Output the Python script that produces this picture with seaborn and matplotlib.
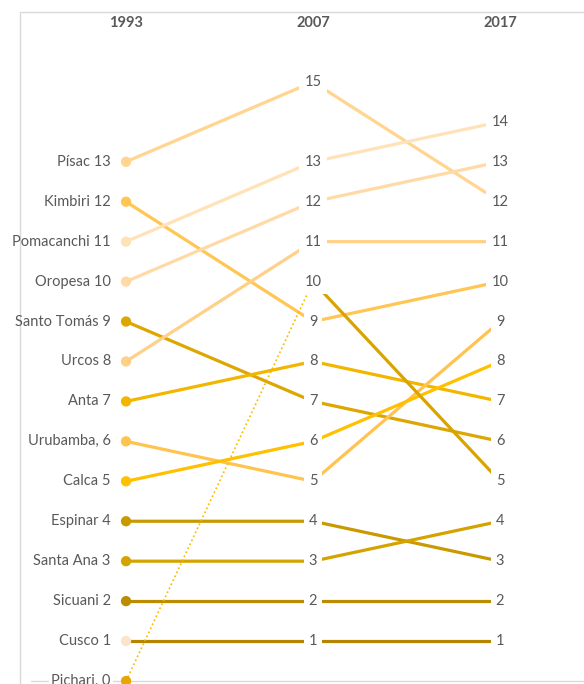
import matplotlib
matplotlib.use("Agg")
import matplotlib.pyplot as plt
import seaborn as sns
import pandas as pd

years = ["1993", "2007", "2017"]
towns = ["Písac", "Kimbiri", "Pomacanchi", "Oropesa", "Santo Tomás", "Urcos", "Anta",
         "Urubamba,", "Calca", "Espinar", "Santa Ana", "Sicuani", "Cusco", "Pichari,"]
r1993 = [13, 12, 11, 10, 9, 8, 7, 6, 5, 4, 3, 2, 1, 0]
r2007 = [15, 9, 13, 12, 7, 11, 8, 5, 6, 4, 3, 2, 1, 10]
r2017 = [12, 10, 14, 13, 6, 11, 7, 9, 8, 3, 4, 2, 1, 5]
line_colors = ["#FFD58F", "#FFC654", "#FFE2B8", "#FFDAA6", "#DDA600", "#FFD088", "#F2B600",
               "#FFC34F", "#FFC000", "#C99A00", "#D4A300", "#BB8C00", "#B58500", "#D9A300"]
marker_colors = ["#FFD58F", "#FFC654", "#FFE2B8", "#FFDAA6", "#DDA600", "#FFD088", "#F2B600",
                 "#FFC34F", "#FFC000", "#C99A00", "#D4A300", "#BB8C00", "#FCE4CC", "#E6A800"]
pichari_dotted = "#F5B800"

sns.set_theme(style="white")
plt.rcParams["font.family"] = ["Lato", "DejaVu Sans"]

fig = plt.figure(figsize=(5.84, 6.84), dpi=100)
ax = fig.add_axes([0, 0, 1, 1])
ax.set_xlim(-0.674, 2.449)
ax.set_ylim(-0.075, 17.05)
ax.axis("off")

txt = "#595959"
# frame lines
ax.plot([-0.567, -0.567], [-1, 16.75], color="#D9D9D9", lw=1, zorder=0)
ax.plot([-0.567, 3], [16.75, 16.75], color="#D9D9D9", lw=1, zorder=0)
ax.plot([-0.51, 3], [0, 0], color="#D9D9D9", lw=1, zorder=0)

for i, t in enumerate(towns):
    c = line_colors[i]
    if t == "Pichari,":
        seg1 = pd.DataFrame({"x": [0, 1], "y": [r1993[i], r2007[i]]})
        sns.lineplot(data=seg1, x="x", y="y", color=pichari_dotted, lw=1.2,
                     linestyle=":", ax=ax, zorder=2)
        seg2 = pd.DataFrame({"x": [1, 2], "y": [r2007[i], r2017[i]]})
        sns.lineplot(data=seg2, x="x", y="y", color=c, lw=2.3, ax=ax, zorder=2)
    else:
        d = pd.DataFrame({"x": [0, 1, 2], "y": [r1993[i], r2007[i], r2017[i]]})
        sns.lineplot(data=d, x="x", y="y", color=c, lw=2.3, ax=ax, zorder=2)

mk = pd.DataFrame({"x": [0] * len(towns), "y": r1993, "town": towns})
sns.scatterplot(data=mk, x="x", y="y", hue="town", palette=dict(zip(towns, marker_colors)),
                s=55, edgecolor="none", legend=False, ax=ax, zorder=3)

fs = 10.5
for i, t in enumerate(towns):
    bb = dict(facecolor="white", edgecolor="none", pad=1.5) if t == "Pichari," else None
    ax.annotate(f"{t} {r1993[i]}", (0, r1993[i]), xytext=(-11, 0), textcoords="offset points",
                ha="right", va="center", fontsize=fs, color=txt, bbox=bb, zorder=4)
    ax.text(1, r2007[i], str(r2007[i]), ha="center", va="center", fontsize=fs, color=txt,
            bbox=dict(facecolor="white", edgecolor="none", boxstyle="square,pad=0.35"), zorder=4)
    ax.text(2, r2017[i], str(r2017[i]), ha="center", va="center", fontsize=fs, color=txt,
            bbox=dict(facecolor="white", edgecolor="none", boxstyle="square,pad=0.35"), zorder=4)

for j, y in enumerate(years):
    ax.text(j, 16.48, y, ha="center", va="center", fontsize=fs, fontweight="bold", color=txt)

fig.savefig("out.png", dpi=100)
